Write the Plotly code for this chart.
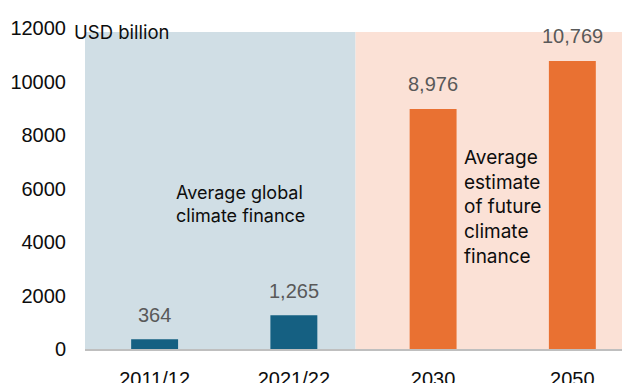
import plotly.graph_objects as go

categories = ["2011/12", "2021/22", "2030", "2050"]
values = [364, 1265, 8976, 10769]
value_labels = ["364", "1,265", "8,976", "10,769"]
bar_colors = ["#156082", "#156082", "#E97132", "#E97132"]
y_ticks = [0, 2000, 4000, 6000, 8000, 10000, 12000]

TEXT_FONT = "Inter, Open Sans, sans-serif"
NUM_FONT = "Liberation Sans, Arial, sans-serif"

fig = go.Figure()
fig.add_trace(go.Bar(
    x=list(range(len(categories))), y=values,
    marker=dict(color=bar_colors, line=dict(width=0)),
    width=0.337, hoverinfo="skip",
))

# background regions
fig.add_shape(type="rect", xref="x", yref="y", x0=-0.5, x1=1.443, y0=-40, y1=11850,
              fillcolor="#D0DEE5", line=dict(width=0), layer="below")
fig.add_shape(type="rect", xref="x", yref="y", x0=1.443, x1=3.45, y0=-40, y1=11850,
              fillcolor="#FBE1D6", line=dict(width=0), layer="below")

for i, (v, t) in enumerate(zip(values, value_labels)):
    fig.add_annotation(x=i, y=v, xref="x", yref="y", text=t, showarrow=False,
                       yanchor="middle", yshift=24.5,
                       font=dict(family=NUM_FONT, size=20, color="#595959"))

fig.add_annotation(xref="paper", yref="paper", x=0.1635, y=0.451, xanchor="left", yanchor="middle",
                   text="Average global<br>climate finance", align="left", showarrow=False,
                   font=dict(family=TEXT_FONT, size=18, color="#0D0D0D"))
fig.add_annotation(xref="paper", yref="paper", x=0.692, y=0.443, xanchor="left", yanchor="middle",
                   text="Average<br>estimate<br>of future<br>climate<br>finance", align="left", showarrow=False,
                   font=dict(family=TEXT_FONT, size=19, color="#0D0D0D"))
fig.add_annotation(xref="paper", yref="paper", x=(72 - 85) / 545, y=1.0, xanchor="left", yanchor="middle",
                   yshift=-4, text="USD billion", showarrow=False,
                   font=dict(family=TEXT_FONT, size=18.5, color="#0D0D0D"))

# page body has an 8px margin, so margins are offset by 8px
fig.update_layout(
    width=630, height=383,
    margin=dict(l=77, r=8, t=20, b=41.5, autoexpand=False),
    paper_bgcolor="white", plot_bgcolor="rgba(0,0,0,0)",
    showlegend=False,
    xaxis=dict(range=[-0.5, 3.414], tickmode="array", tickvals=list(range(len(categories))),
               ticktext=categories, showgrid=False, zeroline=False, showline=True,
               linecolor="#BFBFBF", linewidth=1.5, ticks="", ticklabelstandoff=11,
               automargin=False,
               tickfont=dict(family=NUM_FONT, size=20, color="#0D0D0D")),
    yaxis=dict(range=[0, 12000], tickmode="array", tickvals=y_ticks,
               ticktext=[str(t) for t in y_ticks], showgrid=False, zeroline=False,
               showline=False, ticks="", ticklabelstandoff=18, automargin=False,
               tickfont=dict(family=NUM_FONT, size=20, color="#0D0D0D")),
)

fig.write_html("out.html")
